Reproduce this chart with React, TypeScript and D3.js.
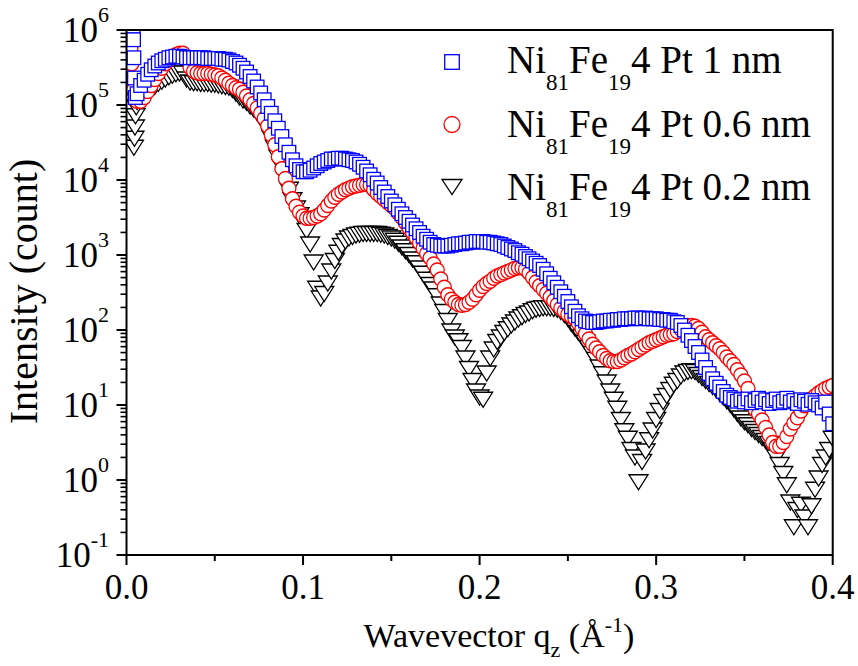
import React from 'react';
import * as d3 from 'd3';

// ---------- data (log10 of intensity, counts) ----------
// main grid: q = 0.006 .. 0.400 step 0.002
const qStart = 0.006;
const qStep = 0.002;

const blueLogI = [
  5.15, 5.26, 5.33, 5.41, 5.47, 5.52, 5.56, 5.59, 5.61, 5.63,
  5.64, 5.65, 5.65, 5.64, 5.63, 5.63, 5.63, 5.63, 5.63, 5.63,
  5.62, 5.62, 5.62, 5.62, 5.61, 5.61, 5.60, 5.58, 5.56, 5.53,
  5.49, 5.44, 5.38, 5.32, 5.24, 5.16, 5.07, 4.98, 4.89, 4.79,
  4.69, 4.58, 4.47, 4.37, 4.27, 4.19, 4.14, 4.11, 4.11, 4.13,
  4.16, 4.19, 4.22, 4.24, 4.26, 4.28, 4.28, 4.29, 4.29, 4.28,
  4.27, 4.26, 4.24, 4.21, 4.17, 4.12, 4.07, 4.01, 3.96, 3.90,
  3.84, 3.78, 3.72, 3.67, 3.61, 3.55, 3.50, 3.45, 3.40, 3.35,
  3.30, 3.25, 3.21, 3.17, 3.14, 3.13, 3.12, 3.12, 3.12, 3.13,
  3.14, 3.15, 3.15, 3.16, 3.17, 3.17, 3.18, 3.18, 3.18, 3.17,
  3.17, 3.16, 3.15, 3.14, 3.12, 3.10, 3.08, 3.06, 3.03, 3.01,
  2.98, 2.95, 2.92, 2.89, 2.86, 2.81, 2.75, 2.69, 2.63, 2.57,
  2.51, 2.45, 2.38, 2.31, 2.25, 2.19, 2.15, 2.12, 2.11, 2.10,
  2.10, 2.11, 2.12, 2.12, 2.13, 2.13, 2.14, 2.14, 2.15, 2.15,
  2.15, 2.16, 2.16, 2.15, 2.16, 2.15, 2.15, 2.15, 2.14, 2.14,
  2.13, 2.13, 2.11, 2.10, 2.06, 2.00, 1.93, 1.86, 1.78, 1.70,
  1.60, 1.50, 1.42, 1.35, 1.29, 1.24, 1.18, 1.13, 1.10, 1.08,
  1.05, 1.07, 1.04, 1.08, 1.03, 1.06, 1.09, 1.04, 1.07, 1.02,
  1.06, 1.08, 1.03, 1.05, 1.09, 1.04, 1.06, 1.02, 1.07, 1.05,
  1.01, 1.06, 1.03, 1.00, 0.96, 1.04, 0.88, 0.75,
];

const redLogI = [
  5.05, 5.05, 5.10, 5.18, 5.26, 5.34, 5.42, 5.49, 5.55, 5.60,
  5.64, 5.67, 5.69, 5.69, 5.62, 5.50, 5.45, 5.43, 5.42, 5.42,
  5.42, 5.41, 5.40, 5.39, 5.36, 5.33, 5.29, 5.26, 5.23, 5.21,
  5.17, 5.12, 5.07, 5.02, 4.96, 4.89, 4.82, 4.72, 4.60, 4.47,
  4.31, 4.15, 4.02, 3.89, 3.75, 3.65, 3.57, 3.52, 3.49, 3.49,
  3.50, 3.52, 3.55, 3.60, 3.66, 3.72, 3.77, 3.81, 3.84, 3.87,
  3.89, 3.91, 3.92, 3.93, 3.94, 3.94, 3.93, 3.87, 3.82, 3.78,
  3.74, 3.70, 3.66, 3.62, 3.56, 3.50, 3.43, 3.36, 3.30, 3.23,
  3.16, 3.09, 3.02, 2.96, 2.88, 2.80, 2.68, 2.57, 2.47, 2.41,
  2.37, 2.34, 2.33, 2.34, 2.37, 2.41, 2.47, 2.53, 2.58, 2.62,
  2.65, 2.69, 2.72, 2.74, 2.76, 2.78, 2.80, 2.82, 2.83, 2.83,
  2.81, 2.76, 2.70, 2.64, 2.59, 2.54, 2.49, 2.44, 2.39, 2.34,
  2.29, 2.25, 2.21, 2.18, 2.15, 2.09, 2.02, 1.95, 1.88, 1.81,
  1.76, 1.71, 1.66, 1.62, 1.59, 1.58, 1.58, 1.60, 1.63, 1.66,
  1.68, 1.71, 1.74, 1.77, 1.80, 1.83, 1.85, 1.87, 1.89, 1.91,
  1.93, 1.94, 1.95, 1.98, 2.01, 2.04, 2.06, 2.06, 2.05, 2.02,
  1.97, 1.91, 1.87, 1.83, 1.79, 1.75, 1.70, 1.64, 1.59, 1.54,
  1.47, 1.40, 1.32, 1.22, 1.05, 0.94, 0.88, 0.80, 0.70, 0.60,
  0.50, 0.45, 0.45, 0.50, 0.58, 0.68, 0.76, 0.83, 0.92, 0.99,
  1.04, 1.08, 1.12, 1.16, 1.19, 1.22, 1.24, 1.26,
];

const blackLogI = [
  5.04, 5.08, 5.12, 5.16, 5.20, 5.24, 5.28, 5.31, 5.34, 5.37,
  5.39, 5.41, 5.42, 5.42, 5.34, 5.30, 5.29, 5.29, 5.28, 5.28,
  5.28, 5.27, 5.27, 5.26, 5.25, 5.24, 5.23, 5.20, 5.15, 5.10,
  5.06, 5.03, 4.98, 4.94, 4.89, 4.84, 4.76, 4.67, 4.56, 4.43,
  4.30, 4.17, 4.02, 3.87, 3.73, 3.62, 3.53, 3.44, 3.32, 3.14,
  2.90, 2.55, 2.42, 2.48, 2.62, 2.78, 2.92, 3.03, 3.12, 3.18,
  3.22, 3.24, 3.26, 3.27, 3.28, 3.28, 3.28, 3.28, 3.28, 3.27,
  3.26, 3.24, 3.22, 3.19, 3.15, 3.10, 3.05, 3.00, 2.94, 2.89,
  2.82, 2.75, 2.67, 2.60, 2.54, 2.45, 2.34, 2.24, 2.12, 1.98,
  1.90, 1.85, 1.76, 1.62, 1.48, 1.32, 1.18, 1.10, 1.07, 1.42,
  1.62, 1.74, 1.84, 1.90, 1.96, 2.01, 2.06, 2.10, 2.14, 2.17,
  2.20, 2.22, 2.25, 2.27, 2.28, 2.29, 2.29, 2.29, 2.28, 2.27,
  2.24, 2.20, 2.15, 2.08, 2.02, 1.96, 1.90, 1.83, 1.76, 1.68,
  1.60, 1.50, 1.41, 1.30, 1.18, 1.07, 0.95, 0.80, 0.65, 0.55,
  0.40, 0.30, -0.03, 0.24, 0.38, 0.53, 0.66, 0.80, 0.92, 1.04,
  1.12, 1.20, 1.27, 1.32, 1.38, 1.42, 1.44, 1.45, 1.44, 1.40,
  1.36, 1.32, 1.28, 1.24, 1.20, 1.15, 1.10, 1.05, 1.00, 0.94,
  0.88, 0.82, 0.77, 0.73, 0.68, 0.64, 0.60, 0.56, 0.52, 0.48,
  0.40, 0.30, 0.20, 0.08, -0.07, -0.30, -0.63, -0.40, -0.33, -0.50,
  -0.63, -0.35, -0.13, 0.02, 0.20, 0.30, 0.40, 0.55,
];

// very low-q points (direct beam region)
const blueLowQ = [0.0038, 0.004, 0.0042, 0.0045, 0.005];
const blueLowLogI = [6.05, 5.87, 5.63, 5.36, 5.1];
const redLowQ = [0.0025, 0.003, 0.0035, 0.004, 0.005];
const redLowLogI = [5.75, 5.55, 5.35, 5.2, 5.08];
const blackLowQ = [0.0042, 0.0045, 0.0048, 0.0051, 0.0055];
const blackLowLogI = [4.43, 4.55, 4.7, 4.85, 4.97];

const xTickValues = [0, 0.1, 0.2, 0.3, 0.4];
const xTickLabels = ['0.0', '0.1', '0.2', '0.3', '0.4'];
const xMinorValues = [0.05, 0.15, 0.25, 0.35];
const yExponents = [-1, 0, 1, 2, 3, 4, 5, 6];
const seriesNames = ['1 nm', '0.6 nm', '0.2 nm'];

const FONT = '"Liberation Serif", "DejaVu Serif", serif';

function buildSeries(lowQ: number[], lowLog: number[], logs: number[]) {
  const pts: { q: number; v: number }[] = [];
  lowQ.forEach((q, i) => pts.push({ q, v: Math.pow(10, lowLog[i]) }));
  logs.forEach((l, i) => pts.push({ q: qStart + qStep * i, v: Math.pow(10, l) }));
  return pts;
}

export default function App() {
  const X0 = 126.5, X1 = 832.7, Y0 = 30, Y1 = 555;
  const x = d3.scaleLinear().domain([0, 0.4]).range([X0, X1]);
  const y = d3.scaleLog().domain([0.1, 1e6]).range([Y1, Y0]);

  const blue = buildSeries(blueLowQ, blueLowLogI, blueLogI);
  const red = buildSeries(redLowQ, redLowLogI, redLogI);
  const black = buildSeries(blackLowQ, blackLowLogI, blackLogI);

  const yMinor: number[] = [];
  for (let e = -1; e < 6; e++) for (let m = 2; m <= 9; m++) yMinor.push(m * Math.pow(10, e));

  const sq = 6.8;
  const triPath = 'M-9.5,-7.5L9.5,-7.5L0,7.5Z';
  const ts = { fontFamily: FONT };

  return (
    <svg width={858} height={666} style={{ position: 'absolute', left: 0, top: 0, background: '#fff', fontFamily: FONT }}>
      <defs>
        <clipPath id="plotClip">
          <rect x={X0} y={Y0} width={X1 - X0} height={Y1 - Y0} />
        </clipPath>
      </defs>
      <rect x={0} y={0} width={858} height={666} fill="#fff" />
      <g clipPath="url(#plotClip)">
        {black.map((p, i) => (
          <path key={'k' + i} d={triPath} transform={`translate(${x(p.q)},${y(p.v)})`} fill="#fff" stroke="#000" strokeWidth={1.3} />
        ))}
        {red.map((p, i) => (
          <circle key={'r' + i} cx={x(p.q)} cy={y(p.v)} r={7} fill="#fff" stroke="#ff0000" strokeWidth={1.3} />
        ))}
        {blue.map((p, i) => (
          <rect key={'b' + i} x={x(p.q) - sq} y={y(p.v) - sq} width={2 * sq} height={2 * sq} fill="#fff" stroke="#0000ff" strokeWidth={1.3} />
        ))}
      </g>
      {/* frame */}
      <rect x={X0} y={Y0} width={X1 - X0} height={Y1 - Y0} fill="none" stroke="#000" strokeWidth={2} />
      {/* x ticks */}
      {xTickValues.map((t, i) => (
        <g key={'xt' + i}>
          <line x1={x(t)} x2={x(t)} y1={Y1} y2={Y1 + 10} stroke="#000" strokeWidth={2} />
          <text x={x(t)} y={599} textAnchor="middle" fontSize={35} style={ts}>{xTickLabels[i]}</text>
        </g>
      ))}
      {xMinorValues.map((t, i) => (
        <line key={'xm' + i} x1={x(t)} x2={x(t)} y1={Y1} y2={Y1 + 6} stroke="#000" strokeWidth={2} />
      ))}
      {/* y ticks */}
      {yExponents.map((e) => (
        <g key={'yt' + e}>
          <line x1={X0 - 10} x2={X0} y1={y(Math.pow(10, e))} y2={y(Math.pow(10, e))} stroke="#000" strokeWidth={2} />
          <text x={109} y={y(Math.pow(10, e)) + 12} textAnchor="end" fontSize={35} style={ts}>
            10<tspan dy={-20} fontSize={22}>{String(e)}</tspan>
          </text>
        </g>
      ))}
      {yMinor.map((v, i) => (
        <line key={'ym' + i} x1={X0 - 6} x2={X0} y1={y(v)} y2={y(v)} stroke="#000" strokeWidth={1.6} />
      ))}
      {/* axis titles */}
      <text x={499} y={647} textAnchor="middle" fontSize={34} style={ts}>
        Wavevector q<tspan dy={10} fontSize={22}>z</tspan>
        <tspan dy={-10}> (Å</tspan>
        <tspan dy={-15} fontSize={22}>-1</tspan>
        <tspan dy={15}>)</tspan>
      </text>
      <text transform="translate(37,291.5) rotate(-90)" textAnchor="middle" fontSize={40} style={ts}>Intensity (count)</text>
      {/* legend */}
      {seriesNames.map((name, i) => {
        const cy = 62 + i * 62.5;
        const base = 73 + i * 63.5;
        return (
          <g key={'lg' + i}>
            {i === 0 && <rect x={452 - 7.3} y={cy - 7.3} width={14.6} height={14.6} fill="#fff" stroke="#0000ff" strokeWidth={1.3} />}
            {i === 1 && <circle cx={452} cy={cy} r={8} fill="#fff" stroke="#ff0000" strokeWidth={1.3} />}
            {i === 2 && <path d="M-10,-7.5L10,-7.5L0,7.5Z" transform={`translate(452,${cy})`} fill="#fff" stroke="#000" strokeWidth={1.3} />}
            <text x={507} y={base} fontSize={39} style={ts}>
              Ni<tspan dy={17} fontSize={23}>81</tspan>
              <tspan dy={-17}>Fe</tspan>
              <tspan dy={17} fontSize={23}>19</tspan>
              <tspan dy={-17}>{'4 Pt ' + name}</tspan>
            </text>
          </g>
        );
      })}
    </svg>
  );
}
